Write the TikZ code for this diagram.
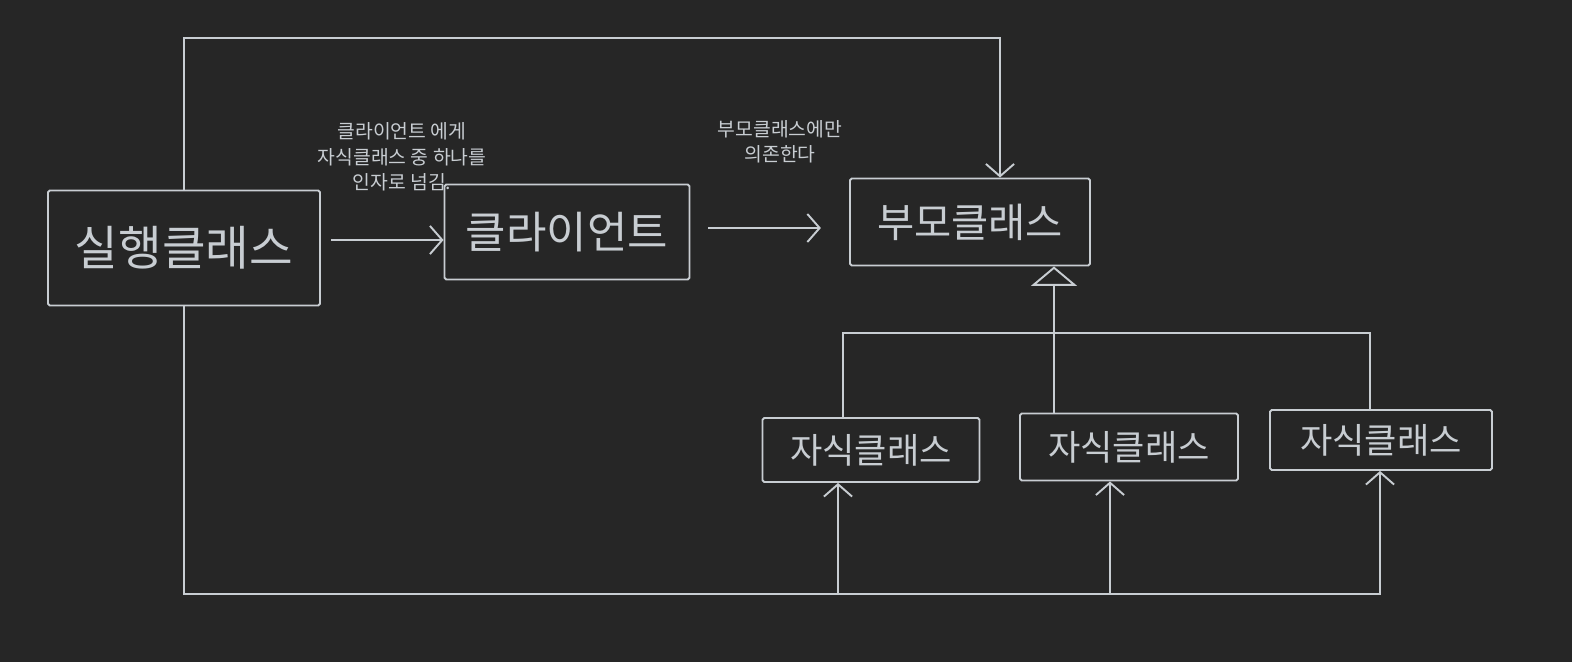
\documentclass[tikz,border=0pt]{standalone}
\usepackage{fontspec}
\newfontfamily\kr{Noto Sans CJK KR}
\usetikzlibrary{arrows.meta}
\definecolor{board}{HTML}{262626}
\definecolor{chalk}{HTML}{C8CDD2}
\tikzset{
  cls/.style={draw=chalk, line width=1.1pt, rounded corners=1pt, text=chalk,
    inner sep=0pt, font=\kr},
  note/.style={text=chalk, font=\kr\fontsize{11}{14.5}\selectfont, align=center},
  wire/.style={draw=chalk, line width=1.1pt},
  barb/.style={-{Straight Barb[length=7pt,width=16pt]}}
}
\begin{document}
\begin{tikzpicture}[x=0.02cm,y=-0.02cm]
   \fill[board] (0,0) rectangle (1572,662);
   \useasboundingbox (0,0) rectangle (1572,662);
   % classes
   \node[cls, minimum width=272*0.02cm, minimum height=115*0.02cm,
     font=\kr\fontsize{27}{30}\selectfont] (run) at (184,248) {실행클래스};
   \node[cls, minimum width=245*0.02cm, minimum height=95*0.02cm,
     font=\kr\fontsize{25}{28}\selectfont] (client) at (567,232) {클라이언트};
   \node[cls, minimum width=240*0.02cm, minimum height=87*0.02cm,
     font=\kr\fontsize{23}{26}\selectfont] (parent) at (970,222) {부모클래스};
   \node[cls, minimum width=217*0.02cm, minimum height=64*0.02cm,
     font=\kr\fontsize{20}{22}\selectfont] (c1) at (871,450) {자식클래스};
   \node[cls, minimum width=218*0.02cm, minimum height=67*0.02cm,
     font=\kr\fontsize{20}{22}\selectfont] (c2) at (1129,447) {자식클래스};
   \node[cls, minimum width=222*0.02cm, minimum height=60*0.02cm,
     font=\kr\fontsize{20}{22}\selectfont] (c3) at (1381,440) {자식클래스};
   % notes
   \node[note] (n1) at (402,157) {클라이언트 에게\\자식클래스 중 하나를\\인자로 넘김.};
   \node[note] (n2) at (780,142) {부모클래스에만\\의존한다};
   % helper points
   \coordinate (topright) at (1000,38);
   \coordinate (botright) at (1380,594);
   \coordinate (b1) at (838,594);
   \coordinate (b2) at (1110,594);
   \coordinate (j1) at (843,333);
   \coordinate (j3) at (1370,333);
   \coordinate (hub) at (1054,333);
   % uses
   \draw[wire,barb] (run.east) ++(10,-8) coordinate (r0) -- (r0 -| client.west);
   \draw[wire,barb] (client.east) ++(18,-4) coordinate (k0) -- ([xshift=-16pt]k0 -| parent.west);
   % passing a child class
   \draw[wire,barb] (run.north) |- (topright) -- (topright |- parent.north);
   \draw[wire,barb] (run.south) |- (botright) -- (botright |- c3.south);
   \draw[wire,barb] (b1) -- (b1 |- c1.south);
   \draw[wire,barb] (b2) -- (b2 |- c2.south);
   % inheritance
   \draw[wire] (j1 |- c1.north) -- (j1) -- (j3) -- (j3 |- c3.north);
   \draw[wire,-{Triangle[open,length=11pt,width=26pt]}] (hub |- c2.north) -- (hub |- parent.south);
\end{tikzpicture}
\end{document}
